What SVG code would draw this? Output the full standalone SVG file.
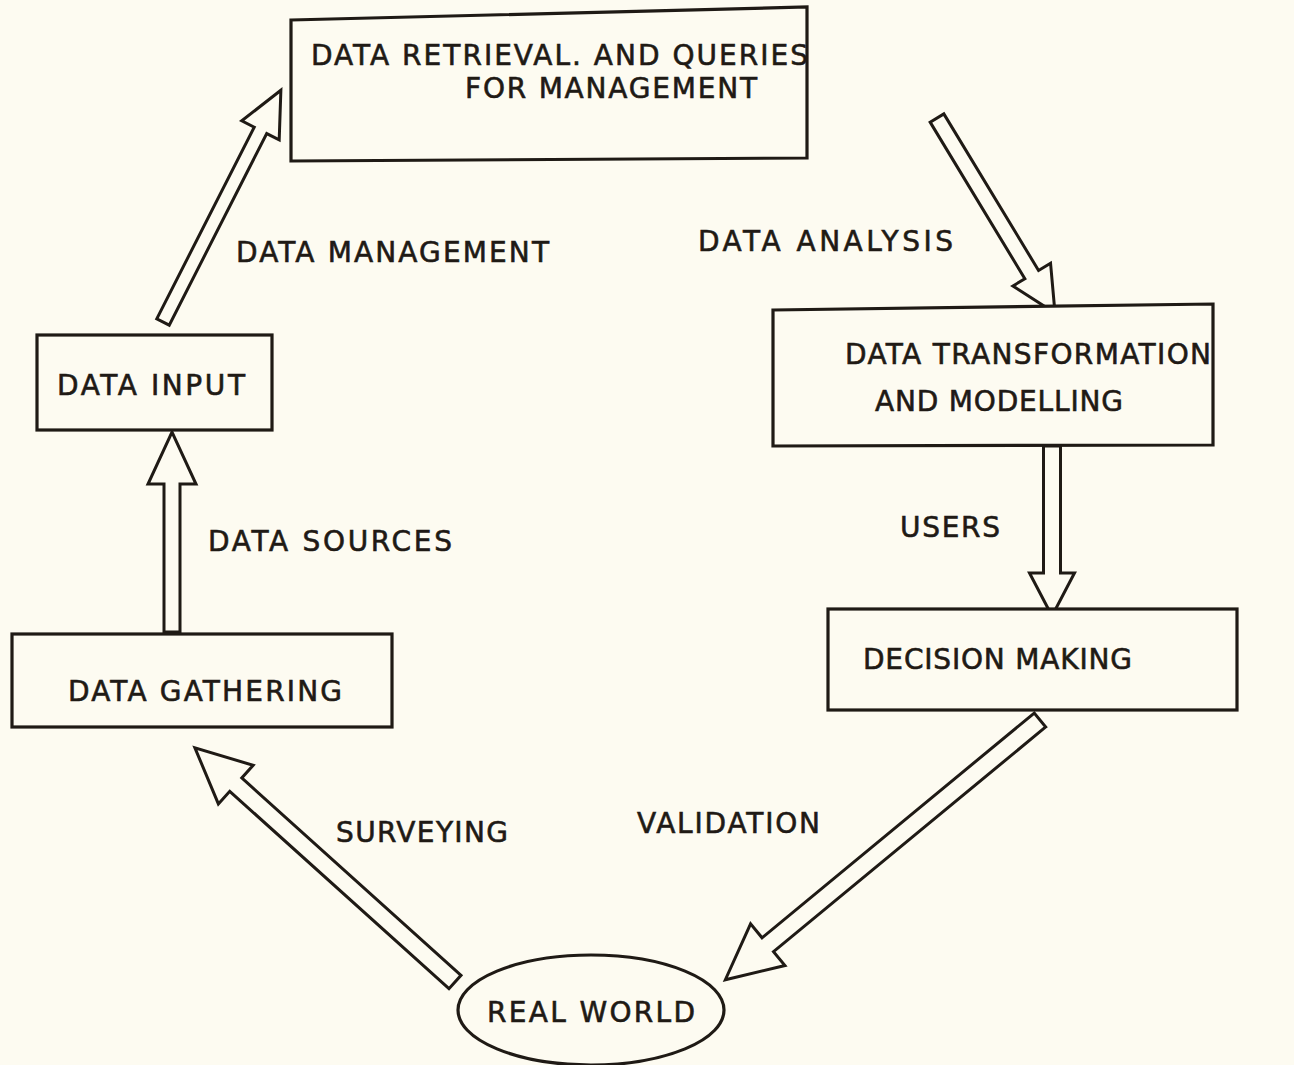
<svg xmlns="http://www.w3.org/2000/svg" width="1294" height="1065" viewBox="0 0 1294 1065">
  <style>
    .box { fill: #fdfbf1; stroke: #1f1a15; stroke-width: 3.2; }
    .arrow { fill: #fdfbf1; stroke: #1f1a15; stroke-width: 3; stroke-linejoin: miter; }
    .t { font-family: "DejaVu Sans", "Liberation Sans", sans-serif; font-size: 28px; fill: #1f1a15; stroke: #1f1a15; stroke-width: 0.6; }
  </style>
  <rect x="0" y="0" width="1294" height="1065" fill="#fdfbf1"/>

  <!-- hollow block arrows: drawn tail at origin, pointing along +x -->
  <g id="connectors">
    <polygon class="arrow" transform="translate(163,322) rotate(-63.04)" points="0,-7 215,-7 215,-21 260,0 215,21 215,7 0,7"/>
    <polygon class="arrow" transform="translate(937,118) rotate(58.83)" points="0,-8 183,-8 183,-22 228,0 183,22 183,8 0,8"/>
    <polygon class="arrow" transform="translate(1052,446) rotate(90)" points="0,-8.5 127,-8.5 127,-22.5 170,0 127,22.5 127,8.5 0,8.5"/>
    <polygon class="arrow" transform="translate(172,632) rotate(-90)" points="0,-8 148,-8 148,-24 200,0 148,24 148,8 0,8"/>
    <polygon class="arrow" transform="translate(1040,720) rotate(140.46)" points="0,-9 353,-9 353,-27 408,0 353,27 353,9 0,9"/>
    <polygon class="arrow" transform="translate(455,982) rotate(-138.0)" points="0,-9 295,-9 295,-26 350,0 295,26 295,9 0,9"/>
  </g>

  <g id="retrieval">
    <polygon class="box" points="291,20 807,7 807,158 291,161"/>
    <text class="t" x="311" y="65" textLength="497" lengthAdjust="spacing">DATA RETRIEVAL. AND QUERIES</text>
    <text class="t" x="465" y="98" textLength="292" lengthAdjust="spacing">FOR MANAGEMENT</text>
  </g>

  <g id="data-input">
    <rect class="box" x="37" y="335" width="235" height="95"/>
    <text class="t" x="57" y="395" textLength="188" lengthAdjust="spacing">DATA INPUT</text>
  </g>

  <g id="data-gathering">
    <rect class="box" x="12" y="634" width="380" height="93"/>
    <text class="t" x="68" y="701" textLength="274" lengthAdjust="spacing">DATA GATHERING</text>
  </g>

  <g id="transformation">
    <polygon class="box" points="773,310 1213,304 1213,445 773,446"/>
    <text class="t" x="845" y="364" textLength="366" lengthAdjust="spacing">DATA TRANSFORMATION</text>
    <text class="t" x="875" y="411" textLength="248" lengthAdjust="spacing">AND MODELLING</text>
  </g>

  <g id="decision-making">
    <rect class="box" x="828" y="609" width="409" height="101"/>
    <text class="t" x="863" y="669" textLength="269" lengthAdjust="spacing">DECISION MAKING</text>
  </g>

  <g id="real-world">
    <ellipse class="box" cx="591" cy="1010" rx="133" ry="55"/>
    <text class="t" x="487" y="1022" textLength="208" lengthAdjust="spacing">REAL WORLD</text>
  </g>

  <g id="labels">
    <text class="t" x="236" y="262" textLength="313" lengthAdjust="spacing">DATA MANAGEMENT</text>
    <text class="t" x="698" y="251" textLength="255" lengthAdjust="spacing">DATA ANALYSIS</text>
    <text class="t" x="208" y="551" textLength="244" lengthAdjust="spacing">DATA SOURCES</text>
    <text class="t" x="900" y="537" textLength="100" lengthAdjust="spacing">USERS</text>
    <text class="t" x="336" y="842" textLength="172" lengthAdjust="spacing">SURVEYING</text>
    <text class="t" x="637" y="833" textLength="183" lengthAdjust="spacing">VALIDATION</text>
  </g>
</svg>
